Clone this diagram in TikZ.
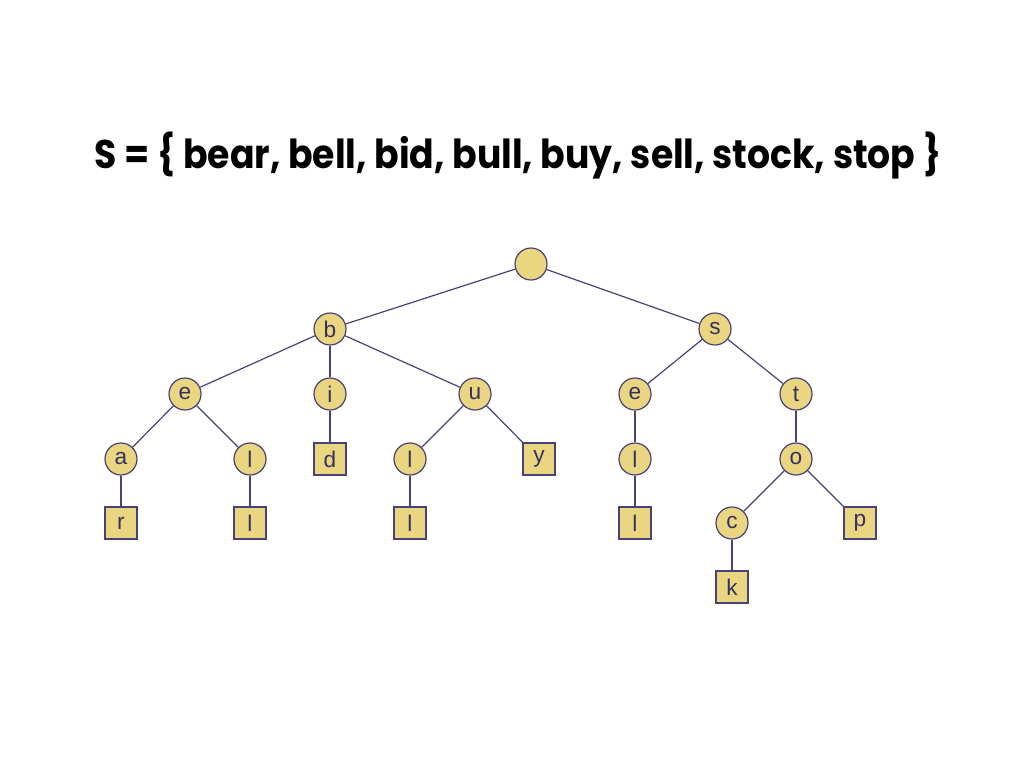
\documentclass[tikz,border=0pt]{standalone}
\usepackage{fontspec}
\newfontfamily\titlefont{Poppins}
\newfontfamily\letterfont{Liberation Sans}
\usepackage{tikz}
\usetikzlibrary{positioning}

\definecolor{triefill}{RGB}{234,213,128}
\definecolor{trieline}{RGB}{72,66,118}
\definecolor{trietext}{RGB}{52,50,96}

\begin{document}
\begin{tikzpicture}[
    x=0.75pt, y=-0.75pt,
    inner/.style={circle, draw=trieline, line width=0.9pt, fill=triefill, minimum size=24pt, inner sep=0pt, font=\letterfont\fontsize{17}{17}\selectfont, text=trietext},
    leaf/.style={rectangle, draw=trieline, line width=0.9pt, fill=triefill, minimum size=24pt, inner sep=0pt, font=\letterfont\fontsize{17}{17}\selectfont, text=trietext},
    edge/.style={draw=trieline, line width=0.9pt}
]
\useasboundingbox (0,0) rectangle (1024,768);

% Title
\node[font=\titlefont\bfseries\fontsize{30}{30}\selectfont] (title) at (518,156) {\scalebox{0.905}[1]{S = \{ bear, bell, bid, bull, buy, sell, stock, stop \}}};

% Root
\node[inner] (root) at (531,264) {};

% Level 1
\node[inner] (b) at (330,329) {b};
\node[inner] (s) at (715,329) {s};

% Level 2
\node[inner] (be) at (185,394) {e};
\node[inner] (bi) at (330,394) {i};
\node[inner] (bu) at (475,394) {u};
\node[inner] (se) at (635,394) {e};
\node[inner] (st) at (796,394) {t};

% Level 3
\node[inner] (bea) at (121,459) {a};
\node[inner] (bel) at (250,459) {l};
\node[leaf]  (bid) at (330,459) {d};
\node[inner] (bul) at (410,459) {l};
\node[leaf]  (buy) at (539,459) {y};
\node[inner] (sel) at (635,459) {l};
\node[inner] (sto) at (796,459) {o};

% Level 4
\node[leaf]  (bear) at (121,523) {r};
\node[leaf]  (bell) at (250,523) {l};
\node[leaf]  (bull) at (410,523) {l};
\node[leaf]  (sell) at (635,523) {l};
\node[inner] (stoc) at (732,523) {c};
\node[leaf]  (stop) at (860,523) {p};

% Level 5
\node[leaf]  (stock) at (732,587) {k};

% Edges
\draw[edge] (root) -- (b);
\draw[edge] (root) -- (s);
\draw[edge] (b) -- (be);
\draw[edge] (b) -- (bi);
\draw[edge] (b) -- (bu);
\draw[edge] (s) -- (se);
\draw[edge] (s) -- (st);
\draw[edge] (be) -- (bea);
\draw[edge] (be) -- (bel);
\draw[edge] (bi) -- (bid);
\draw[edge] (bu) -- (bul);
\draw[edge] (bu) -- (buy);
\draw[edge] (se) -- (sel);
\draw[edge] (st) -- (sto);
\draw[edge] (bea) -- (bear);
\draw[edge] (bel) -- (bell);
\draw[edge] (bul) -- (bull);
\draw[edge] (sel) -- (sell);
\draw[edge] (sto) -- (stoc);
\draw[edge] (sto) -- (stop);
\draw[edge] (stoc) -- (stock);

\end{tikzpicture}
\end{document}
